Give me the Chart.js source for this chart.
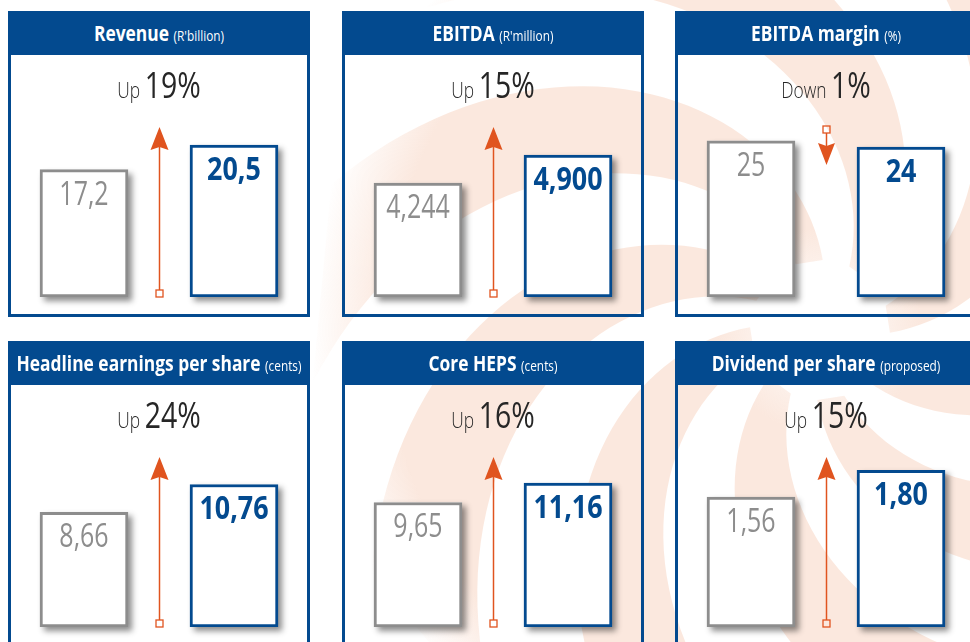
<!DOCTYPE html>
<html lang="en">
<head>
<meta charset="UTF-8">
<title>Financial highlights</title>
<script src="https://cdn.jsdelivr.net/npm/chart.js"></script>
<style>
  html, body { margin: 0; padding: 0; }
  body {
    width: 970px; height: 642px; overflow: hidden; position: relative; background: #fff;
    font-family: "Open Sans", "DejaVu Sans", sans-serif;
  }
  #bg { position: absolute; left: 0; top: 0; }
  .panel { position: absolute; width: 302px; height: 306px; }
  .head { position: absolute; left: 0; top: 0; width: 302px; height: 44px; background: #034a8f; color: #fff; }
  .cond {
    position: absolute; left: 50%; white-space: nowrap;
    transform: translateX(-50%) scaleX(0.79);
  }
  .head .cond { top: 4px; font-size: 22px; font-weight: bold; line-height: 34px; }
  .head span { font-size: 15px; font-weight: normal; }
  .box {
    position: absolute; left: 0; top: 44px; width: 302px; height: 262px; box-sizing: border-box;
    border: 3px solid #034a8f; border-top: none;
  }
  .change .cond { top: 54px; color: #262626; font-size: 22px; font-weight: 300; line-height: 40px; }
  .change b { font-weight: 400; font-size: 36px; }
  .panel canvas { position: absolute; left: 1px; top: 76px; }
</style>
</head>
<body>
<canvas id="bg" width="970" height="642"></canvas>

<script>
  // Data
  const titles = ["Revenue", "EBITDA", "EBITDA margin", "Headline earnings per share", "Core HEPS", "Dividend per share"];
  const units = ["(R'billion)", "(R'million)", "(%)", "(cents)", "(cents)", "(proposed)"];
  const periods = ["Previous year", "Current year"];
  const priorValues = [17.2, 4244, 25, 8.66, 9.65, 1.56];
  const currentValues = [20.5, 4900, 24, 10.76, 11.16, 1.80];
  const priorLabels = ["17,2", "4,244", "25", "8,66", "9,65", "1,56"];
  const currentLabels = ["20,5", "4,900", "24", "10,76", "11,16", "1,80"];
  const changePct = [19, 15, 1, 24, 16, 15];
  // y axis range for each small chart
  const axisMin = [0, 1570, 0, 0, 0, 0.39];
  const axisMax = [27, 6260, 32, 15.1, 15.5, 2.19];

  const BLUE = "#034a8f";
  const GREY = "#8d8d8d";
  const ORANGE = "#e0541f";
  const FONT = '"Open Sans", "DejaVu Sans", sans-serif';

  // swirl in the background
  function drawBackground() {
    const ctx = document.getElementById("bg").getContext("2d");
    const cx = 820, cy = 330, blades = 8, k = -0.003, R = 510, r0 = 70;
    const grad = ctx.createRadialGradient(cx, cy, 0, cx, cy, R);
    grad.addColorStop(0, "rgba(251,232,222,0)");
    grad.addColorStop(0.2, "rgba(251,232,222,1)");
    grad.addColorStop(0.85, "rgba(251,232,222,1)");
    grad.addColorStop(1, "rgba(251,232,222,0)");
    ctx.fillStyle = grad;
    const theta0 = 228 * Math.PI / 180;
    for (let b = 0; b < blades; b++) {
      const a0 = theta0 + b * 2 * Math.PI / blades - Math.PI / blades / 2;
      const w = Math.PI / blades;
      ctx.beginPath();
      for (let r = r0; r <= R; r += 10) ctx.lineTo(cx + r * Math.cos(a0 + k * r), cy + r * Math.sin(a0 + k * r));
      for (let r = R; r >= r0; r -= 10) ctx.lineTo(cx + r * Math.cos(a0 + w + k * r), cy + r * Math.sin(a0 + w + k * r));
      ctx.closePath();
      ctx.fill();
    }
  }
  drawBackground();

  // drop shadow behind each bar
  const shadowPlugin = {
    id: "barShadow",
    beforeDatasetsDraw(chart) {
      const ctx = chart.ctx;
      chart.getDatasetMeta(0).data.forEach(el => {
        const p = el.getProps(["x", "y", "base", "width"], true);
        ctx.save();
        ctx.shadowColor = "rgba(0,0,0,0.45)";
        ctx.shadowBlur = 6;
        ctx.shadowOffsetX = 4;
        ctx.shadowOffsetY = 4;
        ctx.fillStyle = "#fff";
        ctx.fillRect(p.x - p.width / 2, p.y, p.width, p.base - p.y);
        ctx.restore();
      });
    }
  };

  // value labels and the up / down arrow
  const labelPlugin = {
    id: "barLabels",
    afterDatasetsDraw(chart, args, opts) {
      const ctx = chart.ctx;
      const bars = chart.getDatasetMeta(0).data;
      const area = chart.chartArea;
      ctx.save();
      ctx.textAlign = "center";
      ctx.textBaseline = "alphabetic";
      bars.forEach((el, i) => {
        ctx.save();
        ctx.translate(el.x, el.y + 35);
        ctx.scale(i === 0 ? 0.78 : 0.84, 1);
        ctx.font = (i === 0 ? "normal " : "bold ") + "32px " + FONT;
        ctx.fillStyle = i === 0 ? GREY : BLUE;
        ctx.fillText(opts.labels[i], 0, 0);
        ctx.restore();
      });

      const x = Math.round((bars[0].x + bars[1].x) / 2) + 0.5;
      ctx.strokeStyle = ORANGE;
      ctx.fillStyle = ORANGE;
      ctx.lineWidth = 1.5;
      if (opts.up) {
        const sqTop = area.bottom - 7;
        const tip = area.top + 30;
        ctx.beginPath();
        ctx.moveTo(x, sqTop);
        ctx.lineTo(x, tip + 18);
        ctx.stroke();
        ctx.beginPath();
        ctx.moveTo(x, tip);
        ctx.lineTo(x + 9, tip + 23);
        ctx.lineTo(x, tip + 20);
        ctx.lineTo(x - 9, tip + 23);
        ctx.closePath();
        ctx.fill();
        ctx.lineWidth = 1.3;
        ctx.strokeRect(x - 3.5, sqTop, 7, 7);
      } else {
        const sqTop = area.top + 29;
        const tip = area.top + 68;
        ctx.beginPath();
        ctx.moveTo(x, sqTop + 7);
        ctx.lineTo(x, tip - 18);
        ctx.stroke();
        ctx.beginPath();
        ctx.moveTo(x, tip);
        ctx.lineTo(x + 8.5, tip - 22);
        ctx.lineTo(x, tip - 19);
        ctx.lineTo(x - 8.5, tip - 22);
        ctx.closePath();
        ctx.fill();
        ctx.lineWidth = 1.3;
        ctx.strokeRect(x - 3.5, sqTop, 7, 7);
      }
      ctx.restore();
    }
  };

  const colX = [8, 342, 675];
  const rowY = [11, 341];

  titles.forEach((title, i) => {
    const up = currentValues[i] >= priorValues[i];
    const panel = document.createElement("div");
    panel.className = "panel";
    panel.style.left = colX[i % 3] + "px";
    panel.style.top = rowY[Math.floor(i / 3)] + "px";
    panel.innerHTML =
      '<div class="head"><div class="cond">' + title + ' <span>' + units[i] + '</span></div></div>' +
      '<div class="box"></div>' +
      '<div class="change"><div class="cond">' + (up ? "Up" : "Down") + ' <b>' + changePct[i] + '%</b></div></div>' +
      '<canvas width="300" height="230"></canvas>';
    document.body.appendChild(panel);

    new Chart(panel.querySelector("canvas"), {
      type: "bar",
      data: {
        labels: periods,
        datasets: [{
          data: [priorValues[i], currentValues[i]],
          base: axisMin[i],
          backgroundColor: "#fff",
          borderColor: [GREY, BLUE],
          borderWidth: 3,
          borderSkipped: false,
          barThickness: 88
        }]
      },
      options: {
        responsive: false,
        animation: false,
        layout: { padding: { top: 10, bottom: 20, left: 0, right: 0 } },
        scales: {
          x: { display: false },
          y: { display: false, min: axisMin[i], max: axisMax[i] }
        },
        plugins: {
          legend: { display: false },
          tooltip: { enabled: false },
          barLabels: { labels: [priorLabels[i], currentLabels[i]], up: up }
        }
      },
      plugins: [shadowPlugin, labelPlugin]
    });
  });
</script>
</body>
</html>
